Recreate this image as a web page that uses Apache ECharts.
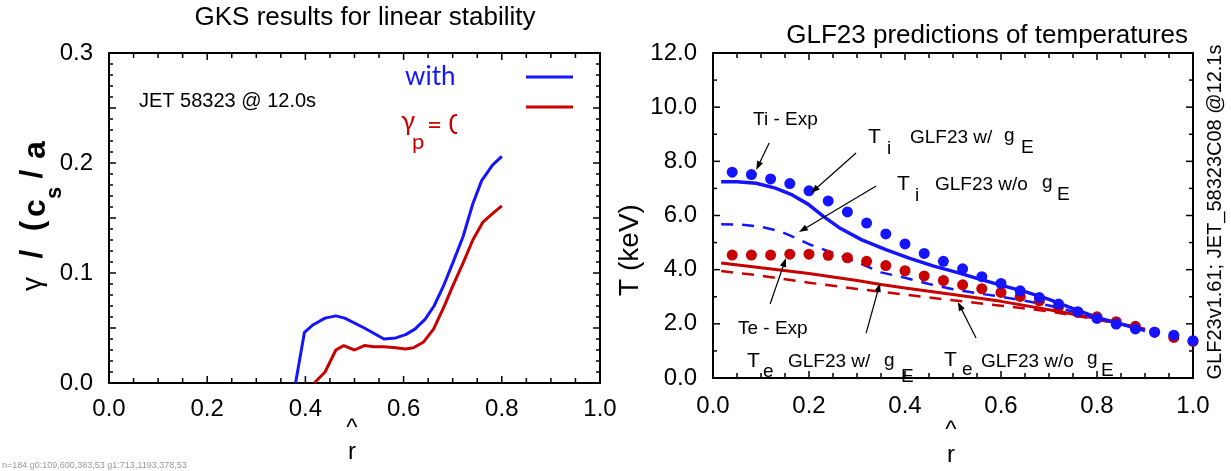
<!DOCTYPE html>
<html><head><meta charset="utf-8">
<script src="https://cdn.jsdelivr.net/npm/echarts@6/dist/echarts.min.js"></script>
<style>html,body{margin:0;padding:0;background:#fff}#c{width:1231px;height:471px}</style>
</head><body><div id="c"></div>
<script>
// ---------- Left panel: GKS linear growth rate ----------
const gksWithR     = [0.380, 0.398, 0.416, 0.440, 0.462, 0.480, 0.520, 0.560, 0.584, 0.604, 0.623, 0.644, 0.662, 0.681, 0.700, 0.721, 0.741, 0.759, 0.781, 0.800];
const gksWithGamma = [0.000, 0.046, 0.053, 0.059, 0.061, 0.059, 0.050, 0.040, 0.041, 0.044, 0.049, 0.058, 0.070, 0.088, 0.109, 0.133, 0.163, 0.184, 0.198, 0.206];
const gksNoR       = [0.418, 0.440, 0.462, 0.478, 0.500, 0.520, 0.540, 0.560, 0.584, 0.604, 0.620, 0.640, 0.661, 0.681, 0.700, 0.721, 0.741, 0.761, 0.781, 0.800];
const gksNoGamma   = [0.000, 0.010, 0.030, 0.034, 0.030, 0.034, 0.033, 0.033, 0.032, 0.031, 0.032, 0.037, 0.049, 0.068, 0.088, 0.109, 0.130, 0.146, 0.154, 0.161];

// ---------- Right panel: temperatures (keV) ----------
const expR  = [0.04, 0.08, 0.12, 0.16, 0.20, 0.24, 0.28, 0.32, 0.36, 0.40, 0.44, 0.48, 0.52, 0.56, 0.60, 0.64, 0.68, 0.72, 0.76, 0.80, 0.84, 0.88, 0.92, 0.96, 1.00];
const tiExp = [7.60, 7.51, 7.35, 7.18, 6.91, 6.54, 6.13, 5.72, 5.32, 4.95, 4.60, 4.31, 4.03, 3.74, 3.49, 3.22, 2.97, 2.73, 2.45, 2.20, 1.99, 1.81, 1.69, 1.58, 1.38];
const teExp = [4.54, 4.54, 4.54, 4.57, 4.57, 4.53, 4.44, 4.31, 4.15, 3.96, 3.77, 3.60, 3.44, 3.30, 3.16, 3.01, 2.85, 2.64, 2.42, 2.26, 2.08, 1.91, 1.69, 1.50, 1.35];

const tiWithR = [0.017, 0.05, 0.09, 0.13, 0.165, 0.198, 0.23, 0.263, 0.31, 0.36, 0.41, 0.46, 0.51, 0.555, 0.605, 0.655, 0.70, 0.75, 0.80, 0.85, 0.90];
const tiWith  = [7.25, 7.25, 7.19, 7.01, 6.76, 6.42, 5.97, 5.55, 5.10, 4.74, 4.42, 4.13, 3.89, 3.65, 3.40, 3.16, 2.90, 2.56, 2.24, 1.99, 1.75];
const tiNoR   = [0.017, 0.06, 0.10, 0.14, 0.17, 0.20, 0.25, 0.30, 0.35, 0.40, 0.45, 0.50, 0.55, 0.60, 0.65, 0.70, 0.75, 0.80, 0.85, 0.90];
const tiNo    = [5.68, 5.66, 5.58, 5.42, 5.19, 4.94, 4.62, 4.28, 3.90, 3.70, 3.47, 3.28, 3.13, 3.00, 2.85, 2.68, 2.45, 2.20, 1.99, 1.78];
const teWithR = [0.017, 0.10, 0.20, 0.30, 0.35, 0.40, 0.50, 0.60, 0.70, 0.80, 0.90];
const teWith  = [4.25, 4.07, 3.86, 3.60, 3.45, 3.32, 3.08, 2.83, 2.52, 2.20, 1.80];
const teNoR   = [0.017, 0.10, 0.20, 0.30, 0.40, 0.50, 0.60, 0.70, 0.80, 0.90];
const teNo    = [3.95, 3.78, 3.52, 3.29, 3.08, 2.87, 2.67, 2.46, 2.16, 1.80];

// tick positions (values) for the framed axes
const rTicks     = [0, 0.05, 0.1, 0.15, 0.2, 0.25, 0.3, 0.35, 0.4, 0.45, 0.5, 0.55, 0.6, 0.65, 0.7, 0.75, 0.8, 0.85, 0.9, 0.95, 1.0];
const gammaTicks = [0, 0.01, 0.02, 0.03, 0.04, 0.05, 0.06, 0.07, 0.08, 0.09, 0.10, 0.11, 0.12, 0.13, 0.14, 0.15,
                    0.16, 0.17, 0.18, 0.19, 0.20, 0.21, 0.22, 0.23, 0.24, 0.25, 0.26, 0.27, 0.28, 0.29, 0.30];
const tTicks     = [0, 1, 2, 3, 4, 5, 6, 7, 8, 9, 10, 11, 12];

// annotation arrows (data coordinates of right panel): from -> to
const arrowFrom = [[0.117, 8.68], [0.298, 8.31], [0.340, 7.09], [0.119, 2.73], [0.319, 1.66], [0.548, 1.48]];
const arrowTo   = [[0.090, 7.68], [0.204, 6.83], [0.179, 5.39], [0.152, 4.43], [0.348, 3.51], [0.510, 2.81]];

const FONT = '"Liberation Sans", Arial, sans-serif';
const BLUE = '#1414ff', RED = '#c80000', BLACK = '#000';
const zip = (a, b) => a.map((v, i) => [v, b[i]]);

function axis(gi, pos, min, max, interval, labelFmt, labelMargin) {
  return {
    type: 'value', gridIndex: gi, position: pos, min, max, interval,
    axisLine: { show: true, onZero: false, lineStyle: { color: BLACK, width: 2 } },
    axisTick: { show: false },
    minorTick: { show: false },
    splitLine: { show: false },
    axisLabel: { show: !!labelFmt, formatter: labelFmt || (v => ''), color: BLACK, fontSize: 24, fontFamily: FONT, margin: labelMargin || 8 }
  };
}
const fmt1 = v => Number(v).toFixed(1);

const xAxes = [
  axis(0, 'bottom', 0, 1, 0.2, fmt1, 14),
  axis(0, 'top', 0, 1, 0.2, null),
  axis(1, 'bottom', 0, 1, 0.2, fmt1, 16),
  axis(1, 'top', 0, 1, 0.2, null)
];
const yAxes = [
  axis(0, 'left', 0, 0.3, 0.1, fmt1, 16),
  axis(0, 'right', 0, 0.3, 0.1, null),
  axis(1, 'left', 0, 12, 2, fmt1, 16),
  axis(1, 'right', 0, 12, 2, null)
];

function txt(text, x, y, size, opts) {
  opts = opts || {};
  return {
    type: 'text', x, y, rotation: opts.rot || 0, z: 100,
    style: {
      text, fill: opts.color || BLACK, fontSize: size, fontFamily: opts.family || FONT,
      fontWeight: opts.weight || 'normal', textAlign: opts.align || 'left', textVerticalAlign: 'middle'
    }
  };
}

const R90 = Math.PI / 2;
const CAL = 'Lato, "Liberation Sans", sans-serif';
const graphics = [
  txt('GKS results for linear stability', 365, 18, 26, { align: 'center' }),
  txt('GLF23 predictions of temperatures', 1188, 36, 26, { align: 'right' }),
  txt('γ', 33, 284, 28, { rot: R90, align: 'center' }),
  txt('/', 33, 254, 32, { rot: R90, align: 'center', weight: 'bold' }),
  txt('(', 33, 226, 32, { rot: R90, align: 'center', weight: 'bold' }),
  txt('c', 36, 208, 32, { rot: R90, align: 'center', weight: 'bold' }),
  txt('s', 55, 193, 22, { rot: R90, align: 'center', weight: 'bold' }),
  txt('/', 33, 174, 32, { rot: R90, align: 'center', weight: 'bold' }),
  txt('a', 36, 150, 32, { rot: R90, align: 'center', weight: 'bold' }),
  txt('T (keV)', 630, 250, 28, { rot: R90, align: 'center' }),
  txt('^', 352, 428, 24, { align: 'center' }),
  txt('r', 352, 452, 24, { align: 'center' }),
  txt('^', 951, 430, 24, { align: 'center' }),
  txt('r', 951, 455, 24, { align: 'center' }),
  txt('GLF23v1.61; JET_58323C08 @12.1s', 1215, 212, 20, { rot: R90, align: 'center' }),
  txt('JET 58323 @ 12.0s', 139, 101, 20),
  txt('with', 405, 77, 26, { color: BLUE, family: CAL }),
  { type: 'line', z: 100, shape: { x1: 526, y1: 77, x2: 573, y2: 77 }, style: { stroke: BLUE, lineWidth: 3 } },
  { type: 'line', z: 100, shape: { x1: 526, y1: 107, x2: 573, y2: 107 }, style: { stroke: RED, lineWidth: 3 } },
  txt('γ', 401, 122, 26, { color: RED, family: CAL }),
  txt('p', 412, 142, 22, { color: RED, family: CAL }),
  txt('= 0', 427, 126, 26, { color: RED, family: CAL }),
  { type: 'rect', z: 101, shape: { x: 457, y: 110, width: 14, height: 32 }, style: { fill: '#fff' } },
  txt('Ti - Exp', 753, 120, 19),
  txt('T', 868, 137, 21), txt('i', 887, 149, 19), txt('GLF23 w/', 910, 138, 19), txt('g', 1004, 136, 19), txt('E', 1021, 148, 19),
  txt('T', 897, 184, 21), txt('i', 915, 196, 19), txt('GLF23 w/o', 935, 185, 19), txt('g', 1042, 183, 19), txt('E', 1057, 195, 19),
  txt('Te - Exp', 738, 329, 19),
  txt('T', 747, 361, 21), txt('e', 763, 372, 19), txt('GLF23 w/', 788, 362, 19), txt('g', 884, 361, 19), txt('E', 901, 377, 19),
  txt('T', 944, 360, 21), txt('e', 962, 370, 19), txt('GLF23 w/o', 981, 362, 19), txt('g', 1087, 359, 19), txt('E', 1101, 371, 19)
];

const lineSeries = (name, xi, yi, data, color, dashed, width) => ({
  name, type: 'line', xAxisIndex: xi, yAxisIndex: yi, data, symbol: 'none', showSymbol: false,
  lineStyle: { color, width: width || 3, type: dashed ? [12, 9] : 'solid' }, z: 3
});
const dotSeries = (name, data, color, z) => ({
  name, type: 'line', xAxisIndex: 2, yAxisIndex: 2, data, symbol: 'circle', symbolSize: 11,
  showSymbol: true, showAllSymbol: true, lineStyle: { width: 0, opacity: 0 },
  itemStyle: { color, borderWidth: 0, opacity: 1 }, z
});

const chart = echarts.init(document.getElementById('c'));
chart.setOption({
  animation: false,
  backgroundColor: '#fff',
  grid: [
    { left: 109, top: 53, width: 491, height: 330 },
    { left: 713, top: 53, width: 480, height: 325 }
  ],
  xAxis: xAxes,
  yAxis: yAxes,
  series: [
    lineSeries('with', 0, 0, zip(gksWithR, gksWithGamma), BLUE, false, 3),
    lineSeries('gamma_p = 0', 0, 0, zip(gksNoR, gksNoGamma), RED, false, 3),
    lineSeries('Te GLF23 w/o gE', 2, 2, zip(teNoR, teNo), RED, true, 2.5),
    lineSeries('Te GLF23 w/ gE', 2, 2, zip(teWithR, teWith), RED, false, 3),
    lineSeries('Ti GLF23 w/o gE', 2, 2, zip(tiNoR, tiNo), BLUE, true, 2.5),
    lineSeries('Ti GLF23 w/ gE', 2, 2, zip(tiWithR, tiWith), BLUE, false, 3.5),
    dotSeries('Te - Exp', zip(expR, teExp), RED, 4),
    dotSeries('Ti - Exp', zip(expR, tiExp), BLUE, 5)
  ]
});

// inward ticks on all four sides and annotation arrows, positioned through each axis's own scale
const isMult = (v, step) => Math.abs(v / step - Math.round(v / step)) < 1e-6;
const tickPath = [];   // one compound path for all ticks
const extras = [];
let dbg = '';
try {
  const X = (xi, v) => chart.convertToPixel({ xAxisIndex: xi }, v);
  const Y = (yi, v) => chart.convertToPixel({ yAxisIndex: yi }, v);
  const frame = (gi, xTicks, yTicks, xMajor, yMajor, xMin, xMax, yMin, yMax) => {
    const xi = gi * 2, yi = gi * 2;
    const left = X(xi, xMin), right = X(xi, xMax), bottom = Y(yi, yMin), top = Y(yi, yMax);
    dbg += ' g' + gi + ':' + [left, right, bottom, top].map(n => Math.round(n)).join(',');
    xTicks.forEach(v => {
      const px = X(xi, v);
      const L = isMult(v, xMajor) ? 7 : 5;
      extras.push({ type: 'rect', z: 120, silent: true, shape: { x: px - 0.75, y: bottom - L, width: 1.5, height: L }, style: { fill: BLACK } });
      extras.push({ type: 'rect', z: 120, silent: true, shape: { x: px - 0.75, y: top, width: 1.5, height: L }, style: { fill: BLACK } });
    });
    yTicks.forEach(v => {
      const py = Y(yi, v);
      const L = isMult(v, yMajor) ? 7 : 4;
      extras.push({ type: 'rect', z: 120, silent: true, shape: { x: left, y: py - 0.75, width: L, height: 1.5 }, style: { fill: BLACK } });
      extras.push({ type: 'rect', z: 120, silent: true, shape: { x: right - L, y: py - 0.75, width: L, height: 1.5 }, style: { fill: BLACK } });
    });
  };
  frame(0, rTicks, gammaTicks, 0.2, 0.05, 0, 1, 0, 0.3);
  frame(1, rTicks, tTicks, 0.2, 2, 0, 1, 0, 12);
  arrowFrom.forEach((f, i) => {
    const a = [X(2, f[0]), Y(2, f[1])];
    const b = [X(2, arrowTo[i][0]), Y(2, arrowTo[i][1])];
    const dx = b[0] - a[0], dy = b[1] - a[1], len = Math.hypot(dx, dy);
    const ux = dx / len, uy = dy / len;
    extras.push({ type: 'line', z: 120, silent: true, shape: { x1: a[0], y1: a[1], x2: b[0] - ux * 5, y2: b[1] - uy * 5 }, style: { stroke: BLACK, lineWidth: 1.2 } });
    extras.push({ type: 'polygon', z: 120, silent: true, shape: { points: [
      [b[0], b[1]],
      [b[0] - ux * 9 - uy * 3.2, b[1] - uy * 9 + ux * 3.2],
      [b[0] - ux * 9 + uy * 3.2, b[1] - uy * 9 - ux * 3.2]
    ] }, style: { fill: BLACK } });
  });
} catch (e) { dbg += ' ERR ' + e; }

chart.setOption({ graphic: { elements: graphics.concat(extras).concat([txt('n=' + extras.length + dbg, 2, 466, 9, { color: '#999' })]) } });
</script>
</body></html>
